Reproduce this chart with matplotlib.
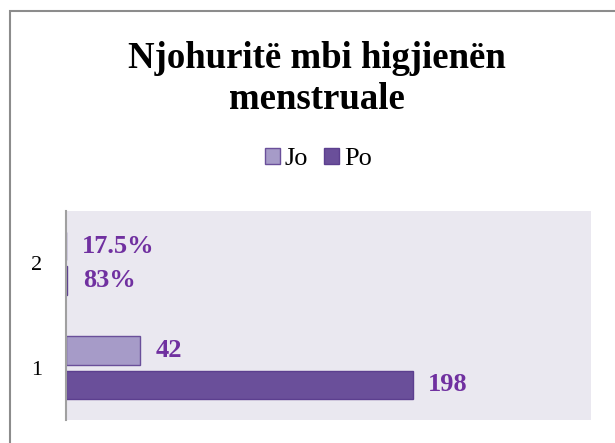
import numpy as np
import matplotlib.pyplot as plt
from matplotlib.patches import Rectangle

categories = ['1', '2']
jo = [42, 0.175]
po = [198, 0.83]
jo_labels = ['42', '17.5%']
po_labels = ['198', '83%']

plt.rcParams['font.family'] = ['Liberation Serif', 'DejaVu Serif']

fig = plt.figure(figsize=(6.15, 4.43), dpi=100)
ax = fig.add_axes([66/615, 1 - 420/443, (591-66)/615, (420-211)/443])

# border round the chart
fig.patches.append(Rectangle((9.5/615, -0.1), 1.2, 1 - 11.5/443 + 0.1,
                             transform=fig.transFigure, fill=False,
                             edgecolor='#8c8c8c', linewidth=1.5))

y = np.arange(1, len(categories) + 1)
h = 0.27
off = 0.165
b_jo = ax.barh(y + off, jo, height=h, color='#A69BC8', edgecolor='#6A4F9A',
               linewidth=1, label='Jo')
b_po = ax.barh(y - off, po, height=h, color='#6A4F9A', edgecolor='#5C3F8F',
               linewidth=1, label='Po')

for bars, labels in [(b_jo, jo_labels), (b_po, po_labels)]:
    for bar, t in zip(bars, labels):
        ax.text(bar.get_width() + 9, bar.get_y() + bar.get_height()/2, t,
                va='center', ha='left', fontsize=19, fontweight='bold', color='#7030A0')

ax.set_xlim(0, 300)
ax.set_ylim(0.5, 2.5)
ax.set_facecolor('#EAE8F0')
ax.set_yticks(y)
ax.set_yticklabels(categories, fontsize=16)
ax.tick_params(axis='y', length=0, pad=17)
ax.set_xticks([])
for s in ['top', 'right', 'bottom']:
    ax.spines[s].set_visible(False)
ax.spines['left'].set_color('#a0a0a0')
ax.spines['left'].set_linewidth(1.5)

fig.text(0.515, 1 - 79/443, 'Njohuritë mbi higjienën\nmenstruale', ha='center', va='center',
         fontsize=26.5, fontweight='bold', linespacing=1.25)

fig.legend(handles=[b_jo, b_po], loc='center', bbox_to_anchor=(0.518, 1 - 159/443),
           ncol=2, frameon=False, fontsize=19, handlelength=0.55, handleheight=0.55,
           handletextpad=0.2, columnspacing=0.6)

fig.savefig('out.png', dpi=100)
